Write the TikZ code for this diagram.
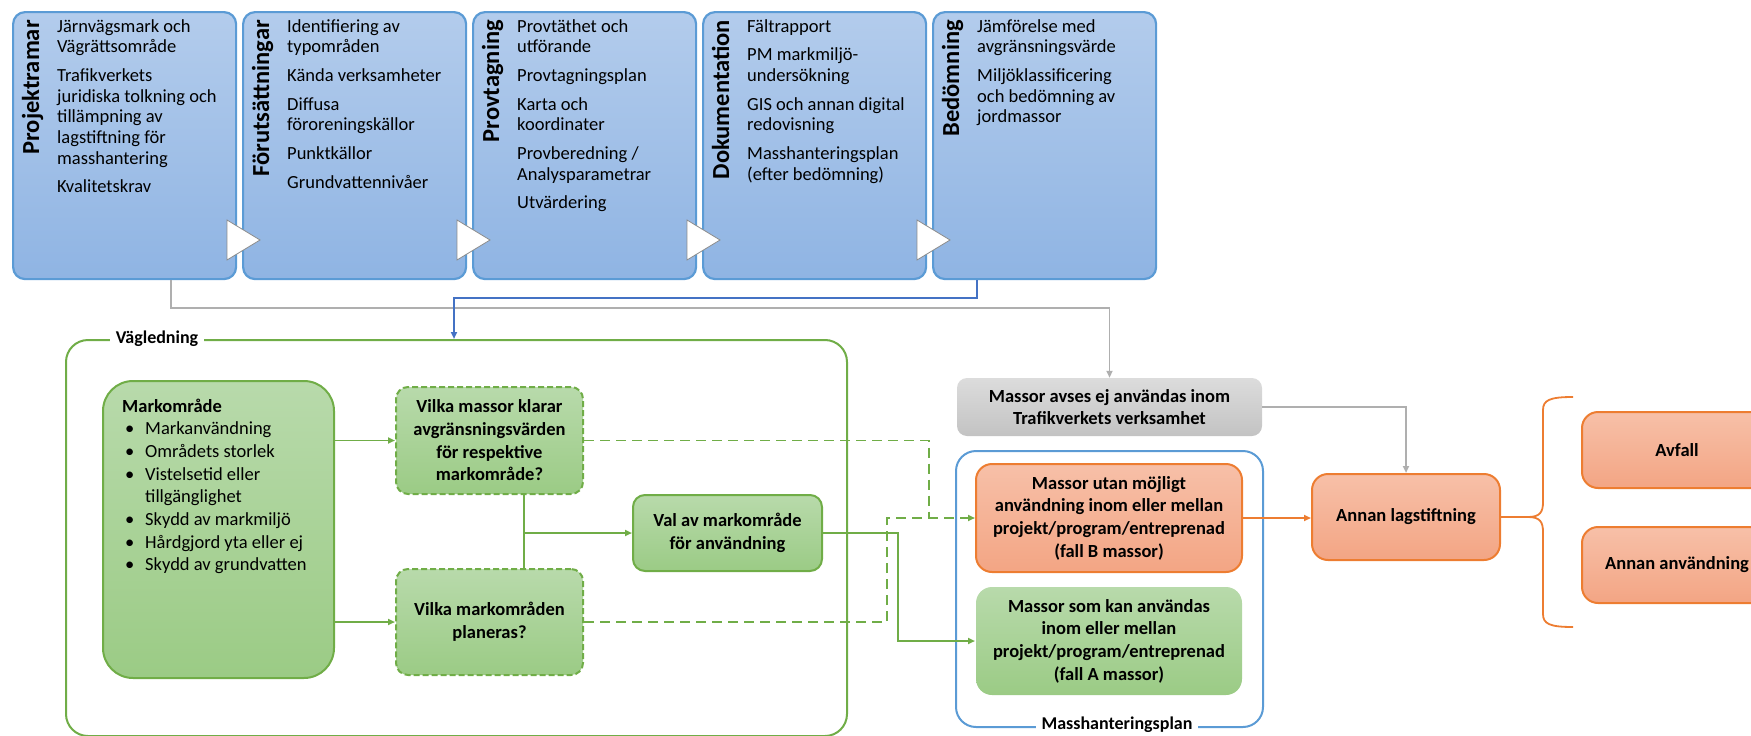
\documentclass[tikz,border=0pt]{standalone}
\usepackage{fontspec}
\setmainfont{Carlito}
\usetikzlibrary{arrows.meta}
\definecolor{blueTop}{HTML}{B3CCEC}
\definecolor{blueBot}{HTML}{8FB4E3}
\definecolor{blueBorder}{HTML}{5B9BD5}
\definecolor{lineBlue}{HTML}{4472C4}
\definecolor{greenTop}{HTML}{B8DAAB}
\definecolor{greenBot}{HTML}{9BCB85}
\definecolor{greenBorder}{HTML}{70AD47}
\definecolor{orTop}{HTML}{F7C0A8}
\definecolor{orBot}{HTML}{F3A584}
\definecolor{orBorder}{HTML}{ED7D31}
\definecolor{grayTop}{HTML}{DCDCDC}
\definecolor{grayBot}{HTML}{C3C3C3}
\definecolor{grayLine}{HTML}{AFAFAF}
\definecolor{triBorder}{HTML}{8C8C8C}
\tikzset{
  tip/.style={-{Triangle[length=7pt,width=6pt]}},
  bluebox/.style={rounded corners=12, line width=2.2pt, draw=blueBorder, top color=blueTop, bottom color=blueBot,
    minimum width=223, minimum height=267, anchor=north west, inner sep=0pt},
  bodytxt/.style={font=\fontsize{18.5}{20.7}\selectfont, align=left, anchor=north west, inner sep=0pt},
  vlabel/.style={font=\fontsize{24.5}{26}\selectfont\bfseries, rotate=90, anchor=base east, inner sep=0pt},
  boxtxt/.style={font=\fontsize{18.5}{22.7}\selectfont\bfseries, align=center, inner sep=0pt},
  greenbox/.style={boxtxt, rounded corners=12, line width=2pt, draw=greenBorder, top color=greenTop, bottom color=greenBot},
  dashbox/.style={greenbox, dash pattern=on 6pt off 3pt},
  orbox/.style={boxtxt, rounded corners=16, line width=2pt, draw=orBorder, top color=orTop, bottom color=orBot},
  graybox/.style={boxtxt, rounded corners=10, draw=none, top color=grayTop, bottom color=grayBot},
  tri/.style={fill=white, draw=triBorder, line width=0.8pt, line join=miter},
  gline/.style={draw=greenBorder, line width=1.8pt},
  gdline/.style={draw=greenBorder, line width=1.8pt, dash pattern=on 10pt off 6pt},
  grline/.style={draw=grayLine, line width=1.8pt},
  bline/.style={draw=lineBlue, line width=1.8pt},
  oline/.style={draw=orBorder, line width=1.8pt},
  frametitle/.style={fill=white, font=\fontsize{18}{20}\selectfont\bfseries, inner xsep=6pt, inner ysep=2pt}
}
\begin{document}
\begin{tikzpicture}[x=1pt,y=-1pt]
\useasboundingbox (0,0) rectangle (1751,736);
\clip (0,0) rectangle (1751,736);

% top process boxes
\node[bluebox] (P1) at (12,11) {};
\node[bluebox] (P2) at (242,11) {};
\node[bluebox] (P3) at (472,11) {};
\node[bluebox] (P4) at (702,11) {};
\node[bluebox] (P5) at (932,11) {};
\foreach \r in {235,465,695,925}
  \draw[tri] (\r-8,220) -- (\r+25,240) -- (\r-8,260) -- cycle;

\node[vlabel] (L1) at (39,20) {Projektramar};
\node[vlabel] (L2) at (269,20) {Förutsättningar};
\node[vlabel] (L3) at (499,20) {Provtagning};
\node[vlabel] (L4) at (729,20) {Dokumentation};
\node[vlabel] (L5) at (959,20) {Bedömning};

\node[bodytxt] (T1) at (57,19) {Järnvägsmark och\\Vägrättsområde\\[8pt]Trafikverkets\\juridiska tolkning och\\tillämpning av\\lagstiftning för\\masshantering\\[8pt]Kvalitetskrav};
\node[bodytxt] (T2) at (287,19) {Identifiering av\\typområden\\[8pt]Kända verksamheter\\[8pt]Diffusa\\föroreningskällor\\[8pt]Punktkällor\\[8pt]Grundvattennivåer};
\node[bodytxt] (T3) at (517,19) {Provtäthet och\\utförande\\[8pt]Provtagningsplan\\[8pt]Karta och\\koordinater\\[8pt]Provberedning /\\Analysparametrar\\[8pt]Utvärdering};
\node[bodytxt] (T4) at (747,19) {Fältrapport\\[8pt]PM markmiljö-\\undersökning\\[8pt]GIS och annan digital\\redovisning\\[8pt]Masshanteringsplan\\(efter bedömning)};
\node[bodytxt] (T5) at (977,19) {Jämförelse med\\avgränsningsvärde\\[8pt]Miljöklassificering\\och bedömning av\\jordmassor};

% Vägledning frame
\node[draw=greenBorder, line width=2pt, rounded corners=22, minimum width=781, minimum height=396, anchor=north west, inner sep=0pt] (vag) at (65,339) {};
\node[frametitle] (vaglbl) at (157,339) {Vägledning};

\node[greenbox, rounded corners=30, minimum width=231, minimum height=297, anchor=north west] (mark) at (102,380) {};
\node[anchor=north west, inner sep=0pt, font=\fontsize{18.5}{22.7}\selectfont] (marktxt) at (122,396) {%
\begin{tabular}{@{}p{23pt}@{}l@{}}
\multicolumn{2}{@{}l@{}}{\bfseries Markområde}\\
\hspace{3pt}\textbullet & Markanvändning\\
\hspace{3pt}\textbullet & Områdets storlek\\
\hspace{3pt}\textbullet & Vistelsetid eller\\
 & tillgänglighet\\
\hspace{3pt}\textbullet & Skydd av markmiljö\\
\hspace{3pt}\textbullet & Hårdgjord yta eller ej\\
\hspace{3pt}\textbullet & Skydd av grundvatten
\end{tabular}};

\node[dashbox, minimum width=187, minimum height=107] (q1) at (489.5,440.5) {Vilka massor klarar\\avgränsningsvärden\\för respektive\\markområde?};
\node[dashbox, minimum width=187, minimum height=106] (q2) at (489.5,622) {Vilka markområden\\planeras?};
\node[greenbox, minimum width=189, minimum height=76] (val) at (727.5,533) {Val av markområde\\för användning};

% right part
\node[graybox, minimum width=305, minimum height=58] (gray) at (1109.5,407) {Massor avses ej användas inom\\Trafikverkets verksamhet};
\node[draw=blueBorder, line width=2pt, rounded corners=20, minimum width=307, minimum height=276, anchor=north west, inner sep=0pt] (mhp) at (955,450) {};
\node[frametitle] (mhplbl) at (1117,725) {Masshanteringsplan};
\node[orbox, minimum width=266, minimum height=108] (fb) at (1109,518) {Massor utan möjligt\\användning inom eller mellan\\projekt/program/entreprenad\\(fall B massor)};
\node[greenbox, rounded corners=16, draw=none, minimum width=266, minimum height=108] (fa) at (1109,641) {Massor som kan användas\\inom eller mellan\\projekt/program/entreprenad\\(fall A massor)};
\node[orbox, minimum width=188, minimum height=86] (annan) at (1406,517) {Annan lagstiftning};
\node[orbox, minimum width=190, minimum height=76] (avfall) at (1677,450) {Avfall};
\node[orbox, minimum width=190, minimum height=76] (annananv) at (1677,565) {Annan användning};

% connectors
\coordinate (g1) at (171,308);
\draw[grline, tip] (P1.south -| g1) |- (gray.north |- g1) -- (gray.north);
\coordinate (bl1) at (977,298);
\coordinate (bl2) at (454,298);
\draw[bline, tip] (P5.south -| bl1) |- (bl2) -- (bl2 |- vag.north);
\draw[grline, tip] (gray.east) -| (annan.north);

\draw[gline, tip] (mark.east |- q1.west) -- (q1.west);
\draw[gline, tip] (mark.east |- q2.west) -- (q2.west);
\coordinate (jn) at (524,533);
\draw[gline] (q1.south -| jn) -- (q2.north -| jn);
\draw[gline, tip] (jn) -- (val.west);
\coordinate (d1) at (929,518);
\coordinate (d2) at (887,518);
\draw[gdline] (q1.east) -| (d1);
\draw[gdline, tip] (q2.east) -| (d2) -- (d2 -| fb.west);
\coordinate (s1) at (898,533);
\draw[gline, tip] (val.east) -| (s1 |- fa.west) -- (fa.west);
\draw[oline, tip] (fb.east) -- (fb.east -| annan.west);

% brace
\coordinate (br) at (1528,517);
\draw[oline] (annan.east) -- (br)
  .. controls (1540,517) and (1543,512) .. (1543,502) -- (1543,410)
  .. controls (1543,400) and (1550,397) .. (1573,397);
\draw[oline] (br)
  .. controls (1540,517) and (1543,522) .. (1543,532) -- (1543,614)
  .. controls (1543,624) and (1550,627) .. (1573,627);
\end{tikzpicture}
\end{document}
